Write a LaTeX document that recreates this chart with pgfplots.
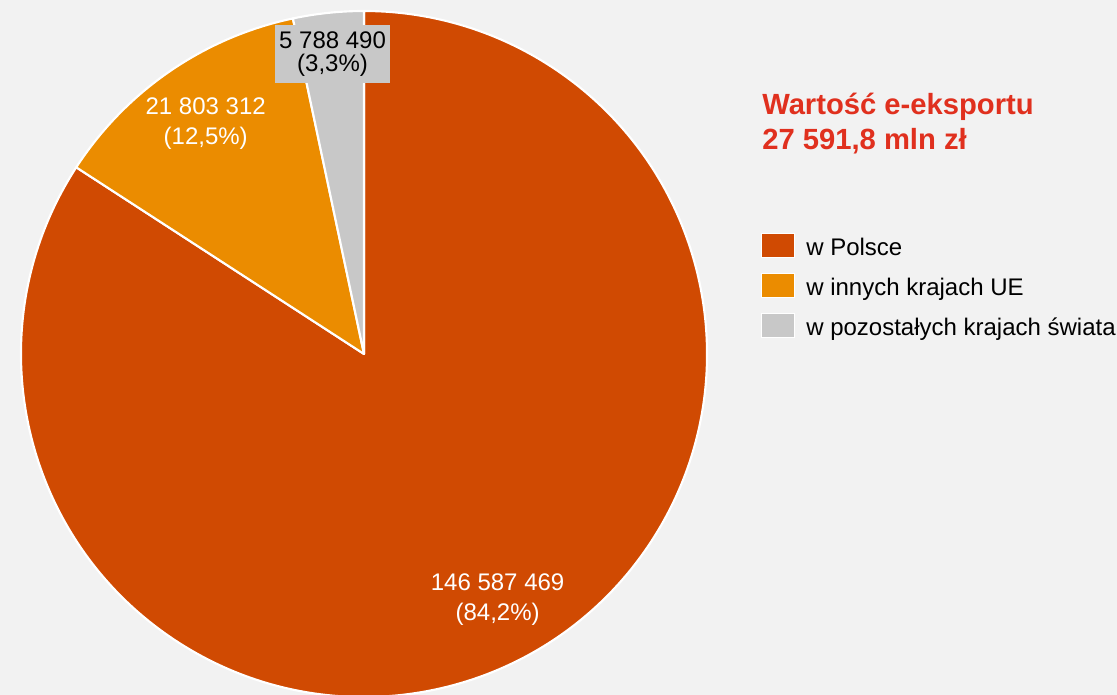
\documentclass[border=0pt]{standalone}
\usepackage{pgfplots}
\pgfplotsset{compat=1.18}
\usepackage{fontspec}
\setmainfont{Liberation Sans}

\definecolor{bg}{HTML}{F2F2F2}
\definecolor{cPL}{HTML}{D04A02}
\definecolor{cUE}{HTML}{EB8C00}
\definecolor{cWorld}{HTML}{C8C8C8}
\definecolor{ctitle}{HTML}{E0301E}

% values (PLN thousands)
\def\vPL{146587469}
\def\vUE{21803312}
\def\vWorld{5788490}
\edef\tot{\fpeval{\vPL+\vUE+\vWorld}}
% slice angles, counter-clockwise from 12 o'clock
\edef\aA{\fpeval{round(90+360*\vWorld/\tot,4)}}
\edef\aB{\fpeval{round(\aA+360*\vUE/\tot,4)}}
\edef\mW{\fpeval{round((90+\aA)/2,4)}}
\edef\mU{\fpeval{round((\aA+\aB)/2,4)}}
\edef\mP{\fpeval{round((\aB+450)/2,4)}}

\def\cx{364}
\def\cy{341}
\def\R{343}       % radius in px (axis units)
\def\Rpt{257.25pt}

\begin{document}
\begin{tikzpicture}
\begin{axis}[
    x=0.75pt, y=0.75pt,
    xmin=0, xmax=1117, ymin=0, ymax=695,
    hide axis, clip=false,
    legend cell align=left,
    legend style={draw=none, fill=none, inner sep=0pt,
        at={(axis cs:761,462)}, anchor=north west,
        row sep=9.1pt, column sep=8.25pt,
        font=\fontsize{18}{21}\selectfont,
        nodes={inner sep=0pt, text height=13pt, text depth=4pt}},
    legend image code/.code={\draw[#1] (0pt,-6pt) rectangle (24.75pt,12pt);},
]
\fill[bg] (axis cs:0,0) rectangle (axis cs:1117,695);

\filldraw[fill=cPL, draw=white, line width=1.6pt, line join=round]
    (axis cs:\cx,\cy) -- (axis cs:{\cx+\R*cos(\aB)},{\cy+\R*sin(\aB)})
    arc[start angle=\aB, end angle=450, radius=\Rpt] -- cycle;
\filldraw[fill=cUE, draw=white, line width=1.6pt, line join=round]
    (axis cs:\cx,\cy) -- (axis cs:{\cx+\R*cos(\aA)},{\cy+\R*sin(\aA)})
    arc[start angle=\aA, end angle=\aB, radius=\Rpt] -- cycle;
\filldraw[fill=cWorld, draw=white, line width=1.6pt, line join=round]
    (axis cs:\cx,\cy) -- (axis cs:\cx,{\cy+\R})
    arc[start angle=90, end angle=\aA, radius=\Rpt] -- cycle;

\node[text=white, align=center, font=\fontsize{18}{22.5}\selectfont]
    at (axis cs:{\cx+0.816*\R*cos(\mP)},{\cy+0.816*\R*sin(\mP)}) {146 587 469\\(84,2\%)};
\node[text=white, align=center, font=\fontsize{18}{22.5}\selectfont]
    at (axis cs:{\cx+0.815*\R*cos(\mU)},{\cy+0.815*\R*sin(\mU)}) {21 803 312\\(12,5\%)};
\node[text=black, fill=cWorld, align=center, inner sep=0pt,
      minimum width=86.25pt, minimum height=43.5pt,
      font=\fontsize{18}{17.2}\selectfont]
    at (axis cs:{\cx+0.88*\R*cos(\mW)},{\cy+0.88*\R*sin(\mW)}) {5 788 490\\(3,3\%)};

\node[anchor=base west, inner sep=0pt, text=ctitle,
      font=\fontsize{21.9}{26}\selectfont\bfseries] at (axis cs:762,580) {Wartość e-eksportu};
\node[anchor=base west, inner sep=0pt, text=ctitle,
      font=\fontsize{21.9}{26}\selectfont\bfseries] at (axis cs:762,545) {27 591,8 mln zł};

\addlegendimage{fill=cPL, draw=white, line width=0.75pt}
\addlegendentry{w Polsce}
\addlegendimage{fill=cUE, draw=white, line width=0.75pt}
\addlegendentry{w innych krajach UE}
\addlegendimage{fill=cWorld, draw=white, line width=0.75pt}
\addlegendentry{w pozostałych krajach świata}
\end{axis}
\pgfresetboundingbox
\path[use as bounding box] (0,0) rectangle (837.75pt,521.25pt);
\end{tikzpicture}
\end{document}
